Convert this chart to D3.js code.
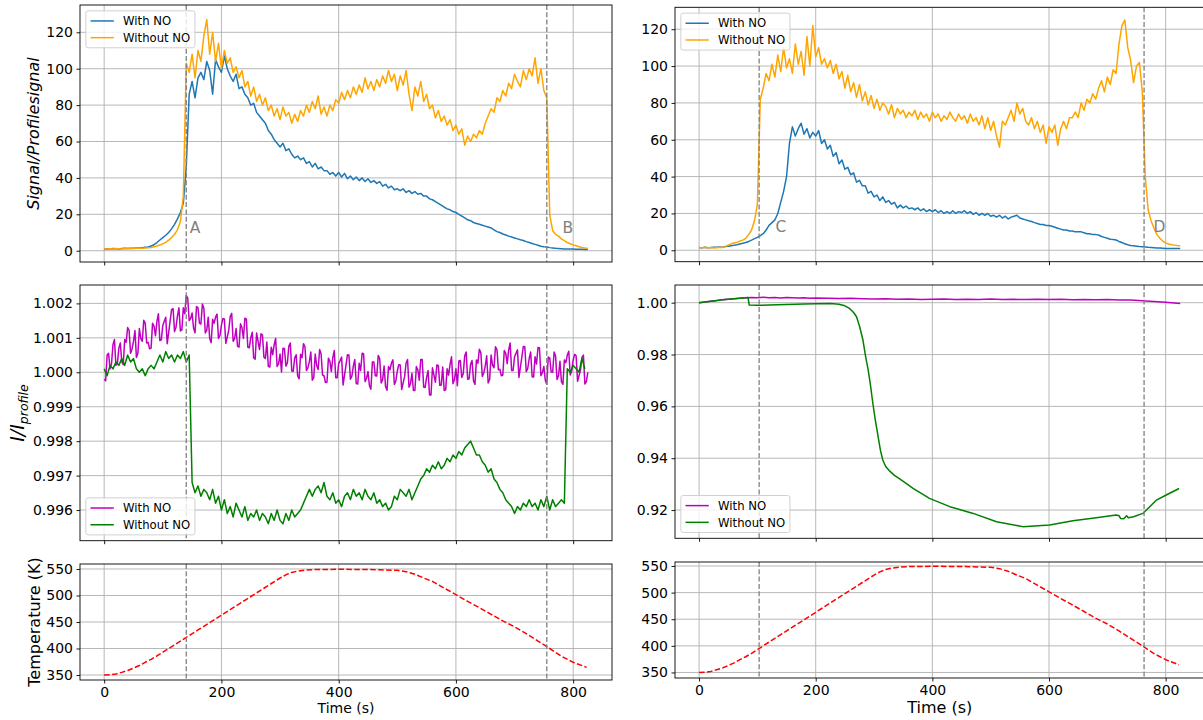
<!DOCTYPE html>
<html><head><meta charset="utf-8">
<script src="https://cdn.jsdelivr.net/npm/d3@7"></script>
<style>body{margin:0;background:#fff}svg{display:block}text{font-family:"DejaVu Sans",sans-serif;fill:#000}</style>
</head><body><svg id="c" width="1203" height="720"></svg>
<script>
// ---------- DATA ----------
const timeGrid = [0,5,10,15,20,25,30,35,40,45,50,55,60,65,70,75,80,85,90,95,100,105,110,115,120,125,130,135,140,145,150,155,160,165,170,175,180,185,190,195,200,205,210,215,220,225,230,235,240,245,250,255,260,265,270,275,280,285,290,295,300,305,310,315,320,325,330,335,340,345,350,355,360,365,370,375,380,385,390,395,400,405,410,415,420,425,430,435,440,445,450,455,460,465,470,475,480,485,490,495,500,505,510,515,520,525,530,535,540,545,550,555,560,565,570,575,580,585,590,595,600,605,610,615,620,625,630,635,640,645,650,655,660,665,670,675,680,685,690,695,700,705,710,715,720,725,730,735,740,745,750,755,760,765,770,775,780,785,790,795,800,805,810,815,820,825];
const timeGridHalf = [2.5,7.5,12.5,17.5,22.5,27.5,32.5,37.5,42.5,47.5,52.5,57.5,62.5,67.5,72.5,77.5,82.5,87.5,92.5,97.5,102.5,107.5,112.5,117.5,122.5,127.5,132.5,137.5,142.5,147.5,152.5,157.5,162.5,167.5,172.5,177.5,182.5,187.5,192.5,197.5,202.5,207.5,212.5,217.5,222.5,227.5,232.5,237.5,242.5,247.5,252.5,257.5,262.5,267.5,272.5,277.5,282.5,287.5,292.5,297.5,302.5,307.5,312.5,317.5,322.5,327.5,332.5,337.5,342.5,347.5,352.5,357.5,362.5,367.5,372.5,377.5,382.5,387.5,392.5,397.5,402.5,407.5,412.5,417.5,422.5,427.5,432.5,437.5,442.5,447.5,452.5,457.5,462.5,467.5,472.5,477.5,482.5,487.5,492.5,497.5,502.5,507.5,512.5,517.5,522.5,527.5,532.5,537.5,542.5,547.5,552.5,557.5,562.5,567.5,572.5,577.5,582.5,587.5,592.5,597.5,602.5,607.5,612.5,617.5,622.5,627.5,632.5,637.5,642.5,647.5,652.5,657.5,662.5,667.5,672.5,677.5,682.5,687.5,692.5,697.5,702.5,707.5,712.5,717.5,722.5,727.5,732.5,737.5,742.5,747.5,752.5,757.5,762.5,767.5,772.5,777.5,782.5,787.5,792.5,797.5,802.5,807.5,812.5,817.5,822.5];

// Left column, top: Signal/Profile signal
const signalWithNO_left = [1.0,1.1,1.0,1.2,1.1,1.0,1.2,1.3,1.2,1.4,
1.4,1.5,1.5,1.7,1.9,2.1,2.6,3.3,4.5,5.9,
7.2,8.5,10,12,14.5,17.5,21,26,46,86,
93,84,95,98,94,104,99,86,105,101,
98,107,100,96,93,97,89,90,86,84,
80,81,76,74,72,70,66,64,61,59,
57,59,55,56,53,51,52,50,51,48,
49,46,48,45,46,44,44,42,43,41,
43,40.5,42.5,39.5,41,39,40.5,38.5,40,38,
39.5,37.5,38.5,37,38,35.5,36.5,34.5,35.5,33.5,
34,33,34,32,33,31.5,32.5,31,31.5,30,
30,28.5,28,27,26,25,24,23,22.5,21.5,
21,20,19,18,17,16.5,15.5,15,14.5,14,
13.5,13,12.5,11.5,10.5,10,9.2,8.6,8,7.5,
7,6.5,6,5.6,5,4.5,4,3.5,3,2.5,
2.2,2,1.7,1.5,1.3,1.2,1.1,1.0,1.0,0.9,
0.9,0.8,0.8,0.8,0.7,0.7];
const signalWithoutNO_left = [1.2,1.0,1.1,1.0,1.2,1.1,1.0,1.2,1.3,1.1,
1.2,1.4,1.3,1.4,1.5,1.6,1.8,2.2,2.6,3.1,
3.8,4.6,5.8,7.2,9,11.5,16,30,103,98,
108,95,110,104,118,127,108,120,104,114,
100,110,103,106,98,101,95,99,90,93,
85,90,82,86,80,84,77,80,74,78,
72,79,74,76,70,75,71,77,74,80,
76,82,78,85,75,79,74,80,77,83,
81,87,83,88,84,90,86,91,87,95,
89,93,88,94,90,96,92,99,93,97,
88,96,91,99,86,77,90,85,93,82,
86,78,80,73,77,71,74,69,72,66,
69,64,67,58,63,60,64,62,66,64,
70,74,78,76,84,82,88,85,92,89,
97,93,90,99,94,100,96,106,92,100,
88,84,20,11,9,8,6.5,5.5,4.5,3.8,
3.2,2.7,2.2,1.8,1.5,1.3];

// Left column, middle: I/I_profile (With NO sampled on timeGrid and timeGridHalf)
const ratioWithNO_left = [0.99980,1.00050,1.00010,1.00080,1.00020,1.00070,1.00030,1.00095,1.00130,1.00055,
1.00090,1.00043,1.00127,1.00090,1.00143,1.00087,1.00070,1.00134,1.00148,1.00092,
1.00136,1.00160,1.00116,1.00182,1.00118,1.00164,1.00120,1.00187,1.00223,1.00150,
1.00172,1.00115,1.00187,1.00140,1.00186,1.00122,1.00098,1.00154,1.00160,1.00098,
1.00137,1.00155,1.00103,1.00162,1.00090,1.00127,1.00073,1.00130,1.00157,1.00073,
1.00100,1.00042,1.00114,1.00066,1.00108,1.00040,1.00017,1.00073,1.00080,1.00017,
1.00053,1.00070,1.00018,1.00076,1.00004,1.00042,0.99990,1.00052,1.00083,1.00005,
1.00031,0.99977,1.00053,1.00008,1.00054,0.99990,0.99971,1.00032,1.00043,0.99984,
1.00025,1.00044,0.99992,1.00051,0.99980,1.00018,0.99967,1.00026,1.00055,0.99973,
1.00002,0.99951,1.00030,0.99989,1.00039,0.99978,0.99958,1.00017,1.00027,0.99965,
1.00003,1.00021,0.99969,1.00027,0.99957,0.99997,0.99947,1.00007,1.00037,0.99957,
0.99985,0.99934,1.00013,0.99971,1.00020,0.99963,0.99947,1.00010,1.00023,0.99967,
1.00010,1.00033,0.99985,1.00048,0.99980,1.00023,0.99975,1.00036,1.00067,0.99988,
1.00018,0.99969,1.00050,1.00013,1.00066,1.00009,0.99992,1.00055,1.00065,1.00005,
1.00045,1.00065,1.00015,1.00075,1.00002,1.00040,0.99987,1.00045,1.00072,0.99990,
1.00017,0.99965,1.00042,1.00000,1.00047,0.99990,0.99973,1.00036,1.00050,0.99992,
1.00035,1.00048,0.99990,1.00043,0.99966,1.00000];
const ratioWithNO_leftHalf = [0.99975,1.00055,1.00025,1.00095,1.00025,1.00085,1.00022,1.00087,1.00122,1.00067,
1.00121,1.00055,1.00098,1.00151,1.00085,1.00068,1.00142,1.00106,1.00170,1.00094,
1.00148,1.00083,1.00149,1.00185,1.00131,1.00187,1.00123,1.00170,1.00215,1.00156,
1.00128,1.00191,1.00143,1.00198,1.00114,1.00160,1.00086,1.00142,1.00169,1.00107,
1.00156,1.00084,1.00122,1.00171,1.00098,1.00075,1.00141,1.00098,1.00155,1.00071,
1.00116,1.00038,1.00090,1.00112,1.00044,1.00088,1.00015,1.00051,1.00098,1.00025,
1.00001,1.00069,1.00027,1.00085,1.00003,1.00051,0.99981,1.00042,1.00074,1.00013,
1.00059,0.99985,1.00020,1.00066,0.99992,0.99970,1.00041,1.00002,1.00063,0.99984,
1.00034,0.99963,1.00021,1.00050,0.99989,1.00037,0.99966,1.00005,1.00054,0.99982,
0.99961,1.00030,0.99990,1.00049,0.99969,1.00018,0.99948,1.00007,1.00036,0.99974,
1.00022,0.99950,0.99988,1.00037,0.99967,0.99947,1.00017,0.99977,1.00037,0.99956,
1.00005,0.99934,0.99992,1.00021,0.99962,1.00015,0.99949,0.99992,1.00045,0.99979,
0.99961,1.00034,0.99996,1.00059,0.99981,1.00034,0.99965,1.00026,1.00057,0.99998,
1.00048,0.99979,1.00021,1.00074,1.00007,0.99990,1.00063,1.00025,1.00085,1.00005,
1.00055,0.99985,1.00045,1.00074,1.00011,1.00059,0.99986,1.00024,1.00071,0.99999,
0.99976,1.00044,1.00001,1.00059,0.99979,1.00032,0.99965,1.00028,1.00061,1.00004,
1.00052,0.99974,1.00007,1.00050,0.99973];
const ratioWithoutNO_left = [1.0001,0.9999,1.0002,1.0001,1.0003,1.0002,1.0004,1.0002,1.0005,1.0003,
1.0004,1.0001,1.0000,1.0001,0.9999,1.0001,1.0002,1.0001,1.0003,1.0005,
1.0003,1.0006,1.0004,1.0005,1.0003,1.0005,1.0004,1.0006,1.0003,1.0005,
0.9968,0.9965,0.9967,0.9964,0.9966,0.9965,0.9963,0.9966,0.9962,0.9964,
0.9960,0.9963,0.9959,0.9961,0.9958,0.9962,0.9960,0.9958,0.9961,0.9957,
0.9959,0.9958,0.9960,0.9957,0.9959,0.9958,0.9956,0.9959,0.9957,0.9960,
0.9957,0.9956,0.9959,0.9957,0.9960,0.9958,0.9959,0.9960,0.9962,0.9964,
0.9966,0.9964,0.9966,0.9967,0.9965,0.9968,0.9964,0.9963,0.9965,0.9962,
0.9963,0.9961,0.9964,0.9965,0.9963,0.9966,0.9964,0.9965,0.9963,0.9966,
0.9964,0.9963,0.9965,0.9962,0.9963,0.9961,0.9962,0.9960,0.9961,0.9964,
0.9963,0.9966,0.9965,0.9964,0.9966,0.9963,0.9965,0.9967,0.9969,0.9970,
0.9972,0.9971,0.9973,0.9972,0.9974,0.9972,0.9973,0.9975,0.9974,0.9976,
0.9975,0.9977,0.9976,0.9978,0.9979,0.9980,0.9978,0.9976,0.9976,0.9974,
0.9973,0.9971,0.9972,0.9969,0.9968,0.9966,0.9965,0.9963,0.9962,0.9961,
0.9959,0.9961,0.9960,0.9962,0.9961,0.9963,0.9961,0.9962,0.9960,0.9963,
0.9961,0.9964,0.9960,0.9963,0.9961,0.9962,0.9963,0.9962,1.0001,1.0000,
1.0002,1.0001,1.0000,1.0004,1.0001];

// Right column, top
const signalWithNO_right = [1.5,1.3,1.6,1.4,1.5,1.7,1.6,1.8,1.7,2.0,
2.2,2.5,2.7,3.0,3.4,3.8,4.2,4.8,5.5,6.3,
7,8,9,11,13.5,15,16.5,20,26,32,
40,58,67,62,66,69,63,66,61,64,
62,65,58,60,55,57,51,53,47,49,
44,45,41,42,37,38,35,35,31,32,
29,30,27,29,26,27,25,26,23,24.5,
23,24,22.5,23,22,23,21.5,22.5,21,22,
21,22,20.5,21.5,20,21,20,21.5,20,21,
20.5,21.5,20,21,19.5,20.5,19,20,19,20,
18.5,19,18,19,17.5,18.5,17,18,18.5,19,
17.5,17,16.5,16,15.6,15,14.5,14,14,13.5,
13.5,13,12.5,12,11.5,11,11,10.5,10.5,10,
10,10,9.5,9,9,8.5,8.5,8.3,7.5,7,
6.5,6,5.8,5.6,4.8,4.2,3.5,3,2.6,2.4,
2.2,2,1.9,1.8,1.6,1.5,1.4,1.3,1.2,1.1,
1.0,1.0,0.9,0.9,0.9,0.9];
const signalWithoutNO_right = [1.5,1.3,1.6,1.4,1.5,1.2,1.4,1.6,1.5,2.0,
2.8,3.5,4.0,4.3,5.0,5.5,6.5,8.5,11,16,
25,82,88,96,92,101,94,106,97,110,
99,104,96,112,101,108,95,116,100,122,
105,110,101,104,99,103,96,101,93,97,
88,95,86,91,83,90,81,86,79,84,
77,82,76,80,78,74,79,72,77,74,
76,72,75,73,76,71,75,72,74,70,
75,72,74,70,73,71,75,72,70,74,
71,73,69,74,70,72,68,73,66,72,
65,70,62,56,70,68,72,76,70,80,
74,77,70,68,72,66,70,64,68,58,
67,64,68,57,66,70,66,72,72,75,
72,80,76,82,80,85,82,88,92,86,
94,90,98,96,112,122,125,110,103,91,
100,102,86,40,22,16,12,8.5,6.5,5,
4,3.4,3,2.8,2.6,2.5];

// Right column, middle: [time, I/I_profile]
const ratioWithNO_right = [[0,1.0000],[10,1.0003],[20,1.0006],[30,1.0008],[40,1.0011],[50,1.0013],[60,1.0015],[70,1.0017],[80,1.0019],[90,1.0020],[100,1.0019],[110,1.0021],[120,1.0019],[130,1.0020],[140,1.0018],[150,1.0020],[160,1.0019],[170,1.0018],[180,1.0019],[190,1.0017],[200,1.0018],[220,1.0017],[240,1.0016],[260,1.0017],[280,1.0015],[300,1.0014],[320,1.0015],[340,1.0013],[360,1.0014],[380,1.0012],[400,1.0013],[420,1.0014],[440,1.0012],[460,1.0013],[480,1.0012],[500,1.0014],[520,1.0012],[540,1.0013],[560,1.0012],[580,1.0013],[600,1.0012],[620,1.0013],[640,1.0011],[660,1.0012],[680,1.0011],[700,1.0012],[720,1.0010],[740,1.0010],[760,1.0008],[780,1.0005],[800,1.0002],[815,0.9999],[825,0.9997]];
const ratioWithoutNO_right = [[0,1.0000],[20,1.0006],[40,1.0011],[60,1.0015],[80,1.0019],[84,1.0020],[86,0.9991],[100,0.9990],[120,0.9991],[150,0.9993],[180,0.9995],[200,0.9996],[225,0.9997],[240,0.9994],[250,0.9988],[258,0.9978],[265,0.9962],[270,0.9946],[275,0.9910],[281,0.9856],[285,0.9800],[290,0.9740],[294,0.9680],[298,0.9611],[302,0.9550],[307,0.9483],[311,0.9430],[315,0.9393],[320,0.9368],[327,0.9350],[335,0.9334],[344,0.9320],[367,0.9284],[395,0.9245],[430,0.9213],[470,0.9187],[510,0.9155],[555,0.9136],[601,0.9142],[641,0.9159],[681,0.9170],[715,0.9181],[720,0.9178],[723,0.9167],[728,0.9166],[733,0.9178],[736,0.9170],[745,0.9174],[761,0.9187],[784,0.9238],[801,0.9258],[823,0.9283]];

// Bottom row: [time, temperature K]
const temperature = [[0,350],[10,350.5],[20,352],[30,355],[40,358.5],[50,363],[60,368],[70,374],[80,379.5],[90,386],[100,393],[110,400],[120,407],[130,414],[140,421],[160,435],[180,449],[200,463],[220,477],[240,491],[260,505],[280,519],[300,533],[310,539],[320,543.5],[330,546],[345,548],[360,549],[400,549.4],[450,549],[500,547.5],[515,545],[530,540],[545,533],[560,526.5],[580,514],[600,501.5],[620,489],[640,477],[660,464.5],[680,452],[700,441],[720,428],[740,414],[760,400],[780,385.5],[800,374],[823,364.5]];

const markersLeft = [140, 755];
const markersRight = [103, 763];
const annotLeft = [["A",146,10],["B",782,10]];
const annotRight = [["C",131,10],["D",779,10]];
const seriesLabels = ["With NO","Without NO"];
const xTicks = [0,200,400,600,800];
const yTicksSignal = [0,20,40,60,80,100,120];
const yTicksRatioLeft = [0.996,0.997,0.998,0.999,1.000,1.001,1.002];
const yTicksRatioRight = [0.92,0.94,0.96,0.98,1.00];
const yTicksTemp = [350,400,450,500,550];

// ---------- DRAW ----------
const svg = d3.select("#c");
svg.append("rect").attr("width",1203).attr("height",720).attr("fill","#fff");
const XDOM = [-41.25, 866.25];
let clipN = 0;

// merge a main-grid series with its half-step samples into [t, v] pairs
function interleave(a, b){
  const out = [];
  a.forEach((v,i)=>{ out.push([timeGrid[i], v]); if(i < b.length) out.push([timeGridHalf[i], b[i]]); });
  return out;
}

function panel(p){
  const x = d3.scaleLinear().domain(XDOM).range([p.x0,p.x1]);
  const y = d3.scaleLinear().domain(p.ydom).range([p.y1,p.y0]);
  const g = svg.append("g");
  const cid = "clip"+(clipN++);
  svg.append("clipPath").attr("id",cid).append("rect")
    .attr("x",p.x0).attr("y",p.y0).attr("width",p.x1-p.x0).attr("height",p.y1-p.y0);
  const grid = g.append("g").attr("stroke","#b0b0b0").attr("stroke-width",0.9);
  xTicks.forEach(t=>grid.append("line").attr("x1",x(t)).attr("x2",x(t)).attr("y1",p.y0).attr("y2",p.y1));
  p.yticks.forEach(t=>grid.append("line").attr("y1",y(t)).attr("y2",y(t)).attr("x1",p.x0).attr("x2",p.x1));
  const dg = g.append("g").attr("clip-path","url(#"+cid+")");
  p.series.forEach(s=>{
    const line = s.pairs
      ? d3.line().x(d=>x(d[0])).y(d=>y(d[1]))
      : d3.line().x((d,i)=>x(timeGrid[i])).y(d=>y(d));
    dg.append("path").attr("d",line(s.data)).attr("fill","none").attr("stroke",s.color)
      .attr("stroke-width",1.5).attr("stroke-linejoin","round")
      .attr("stroke-dasharray",s.dash||null);
  });
  p.markers.forEach(m=>dg.append("line").attr("x1",x(m)).attr("x2",x(m)).attr("y1",p.y0).attr("y2",p.y1)
    .attr("stroke","#808080").attr("stroke-width",1.3).attr("stroke-dasharray","5,2.3"));
  (p.annots||[]).forEach(a=>g.append("text").attr("x",x(a[1])).attr("y",y(a[2])).attr("font-size",15.5)
    .style("fill","#808080").text(a[0]));
  const ax = d3.axisBottom(x).tickValues(xTicks).tickSize(3.5).tickPadding(3.5)
    .tickFormat(p.xlabels ? d3.format("d") : ()=> "");
  const axg = g.append("g").attr("transform","translate(0,"+p.y1+")").call(ax);
  const ay = d3.axisLeft(y).tickValues(p.yticks).tickSize(3.5).tickPadding(3.5).tickFormat(d3.format(p.yfmt));
  const ayg = g.append("g").attr("transform","translate("+p.x0+",0)").call(ay);
  [axg,ayg].forEach(a=>{
    a.select(".domain").remove();
    a.selectAll("line").attr("stroke","#000").attr("stroke-width",0.9);
    a.selectAll("text").attr("font-size",14).attr("font-family","DejaVu Sans").style("fill","#000");
  });
  g.append("rect").attr("x",p.x0).attr("y",p.y0).attr("width",p.x1-p.x0).attr("height",p.y1-p.y0)
    .attr("fill","none").attr("stroke","#000").attr("stroke-width",0.9);
  if(p.legend) legend(p, p.legend);
}

function legend(p, where){
  const fs=11.67, pad=4.67, hl=23.3, tp=9.3, rowH=10.9, sp=5.83, bap=5.83;
  const n = p.series.length;
  const h = 2*pad + n*rowH + (n-1)*sp;
  const left = p.x0 + bap;
  const top = where==="upper" ? p.y0 + bap : p.y1 - bap - h;
  const lg = svg.append("g");
  const box = lg.append("rect");
  let maxW = 0;
  p.series.forEach((s,i)=>{
    const cy = top + pad + rowH/2 + i*(rowH+sp);
    lg.append("line").attr("x1",left+pad).attr("x2",left+pad+hl).attr("y1",cy).attr("y2",cy)
      .attr("stroke",s.color).attr("stroke-width",1.5);
    const t = lg.append("text").attr("x",left+pad+hl+tp).attr("y",cy).attr("dy","0.36em")
      .attr("font-size",fs).text(s.label);
    maxW = Math.max(maxW, t.node().getComputedTextLength());
  });
  box.attr("x",left).attr("y",top).attr("width",pad+hl+tp+maxW+pad).attr("height",h)
    .attr("rx",2.3).attr("fill","#fff").attr("fill-opacity",0.8).attr("stroke","#cccccc").attr("stroke-width",0.9);
}

const L = {x0:80, x1:612}, R = {x0:675, x1:1204.3};
const blue="#1f77b4", orange="#ffa500", mag="#bf00bf", green="#008000", red="#ff0000";

panel({...L, y0:5, y1:262, ydom:[-6.2,135], yticks:yTicksSignal, yfmt:"d", markers:markersLeft, annots:annotLeft, legend:"upper",
  series:[{data:signalWithNO_left,color:blue,label:seriesLabels[0]},{data:signalWithoutNO_left,color:orange,label:seriesLabels[1]}]});
panel({...L, y0:285, y1:540.7, ydom:[0.99511,1.002534], yticks:yTicksRatioLeft, yfmt:".3f", markers:markersLeft, legend:"lower",
  series:[{data:interleave(ratioWithNO_left, ratioWithNO_leftHalf),pairs:true,color:mag,label:seriesLabels[0]},{data:ratioWithoutNO_left,color:green,label:seriesLabels[1]}]});
panel({...L, y0:564, y1:680, ydom:[340.6,559.4], yticks:yTicksTemp, yfmt:"d", markers:markersLeft, xlabels:true,
  series:[{data:temperature,pairs:true,color:red,dash:"5.55,2.4"}]});

panel({...R, y0:7.3, y1:261.7, ydom:[-6.2,131.9], yticks:yTicksSignal, yfmt:"d", markers:markersRight, annots:annotRight, legend:"upper",
  series:[{data:signalWithNO_right,color:blue,label:seriesLabels[0]},{data:signalWithoutNO_right,color:orange,label:seriesLabels[1]}]});
panel({...R, y0:285, y1:538.3, ydom:[0.9091,1.00683], yticks:yTicksRatioRight, yfmt:".2f", markers:markersRight, legend:"lower",
  series:[{data:ratioWithNO_right,pairs:true,color:mag,label:seriesLabels[0]},{data:ratioWithoutNO_right,pairs:true,color:green,label:seriesLabels[1]}]});
panel({...R, y0:562, y1:678, ydom:[339.6,557.5], yticks:yTicksTemp, yfmt:"d", markers:markersRight, xlabels:true,
  series:[{data:temperature,pairs:true,color:red,dash:"5.55,2.4"}]});

// axis labels
svg.append("text").attr("transform","translate(38.5,133.5) rotate(-90)").attr("text-anchor","middle")
  .attr("font-size",16).attr("font-style","italic").text("Signal/Profilesignal");
const il = svg.append("text").attr("transform","translate(24,413) rotate(-90)").attr("text-anchor","middle").attr("font-style","italic");
il.append("tspan").attr("font-size",19).text("I/I");
il.append("tspan").attr("font-size",12.5).attr("dy",4).text("profile");
svg.append("text").attr("transform","translate(39.5,622) rotate(-90)").attr("text-anchor","middle")
  .attr("font-size",16).text("Temperature (K)");
svg.append("text").attr("x",346).attr("y",713).attr("text-anchor","middle").attr("font-size",14).text("Time (s)");
svg.append("text").attr("x",939.7).attr("y",713).attr("text-anchor","middle").attr("font-size",16).text("Time (s)");
</script></body></html>
